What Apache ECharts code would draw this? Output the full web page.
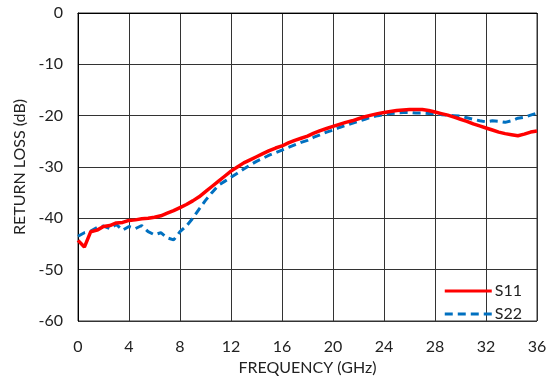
<!DOCTYPE html>
<html>
<head>
<meta charset="utf-8">
<script src="https://cdn.jsdelivr.net/npm/echarts@6/dist/echarts.min.js"></script>
<style>
  html, body { margin: 0; padding: 0; background: #fff; }
  #main { width: 551px; height: 381px; }
</style>
</head>
<body>
<div id="main"></div>
<script>
// frequency in GHz, 0.5 GHz steps
const freq = [
  0, 0.5, 1, 1.5, 2, 2.5, 3, 3.5, 4, 4.5, 5, 5.5, 6, 6.5, 7, 7.5, 8, 8.5, 9, 9.5,
  10, 10.5, 11, 11.5, 12, 12.5, 13, 13.5, 14, 14.5, 15, 15.5, 16, 16.5, 17, 17.5,
  18, 18.5, 19, 19.5, 20, 20.5, 21, 21.5, 22, 22.5, 23, 23.5, 24, 24.5, 25, 25.5,
  26, 26.5, 27, 27.5, 28, 28.5, 29, 29.5, 30, 30.5, 31, 31.5, 32, 32.5, 33, 33.5,
  34, 34.5, 35, 35.5, 36
];
const s11 = [
  -44.3, -45.6, -42.6, -42.3, -41.6, -41.4, -40.9, -40.8, -40.4, -40.3, -40.1, -40.0,
  -39.8, -39.5, -39.0, -38.5, -37.9, -37.3, -36.6, -35.8, -34.8, -33.8, -32.8, -31.8,
  -30.8, -30.0, -29.2, -28.6, -28.0, -27.4, -26.8, -26.3, -25.9, -25.3, -24.8, -24.4,
  -24.0, -23.4, -22.9, -22.5, -22.1, -21.7, -21.3, -21.0, -20.6, -20.2, -19.9, -19.6,
  -19.4, -19.2, -19.0, -18.9, -18.8, -18.8, -18.8, -19.0, -19.3, -19.6, -19.9, -20.3,
  -20.7, -21.1, -21.6, -22.0, -22.4, -22.8, -23.2, -23.5, -23.7, -23.9, -23.6, -23.2,
  -23.0
];
const s22 = [
  -43.5, -42.8, -42.5, -41.8, -41.5, -42.0, -41.2, -42.3, -41.6, -42.0, -41.4, -42.6,
  -43.2, -42.8, -43.8, -44.2, -42.6, -41.5, -40.0, -38.2, -36.5, -35.0, -33.6, -32.8,
  -32.0, -31.2, -30.4, -29.6, -28.9, -28.3, -27.7, -27.2, -26.7, -26.2, -25.7, -25.2,
  -24.8, -24.2, -23.7, -23.2, -22.8, -22.3, -21.9, -21.5, -21.1, -20.7, -20.3, -20.0,
  -19.8, -19.6, -19.5, -19.4, -19.4, -19.5, -19.5, -19.6, -19.6, -19.8, -19.9, -20.0,
  -20.1, -20.4, -20.7, -21.0, -21.2, -21.0, -21.1, -21.3, -21.0, -20.5, -20.3, -19.9,
  -19.5
];

const font = 'Lato, "Open Sans", sans-serif';
const chart = echarts.init(document.getElementById('main'), null, { renderer: 'canvas' });

chart.setOption({
  animation: false,
  backgroundColor: '#fff',
  textStyle: { fontFamily: font },
  grid: { left: 78, right: 14, top: 13, bottom: 58, show: true, borderColor: '#333', borderWidth: 1 },
  legend: {
    orient: 'vertical',
    right: 24,
    bottom: 54,
    itemWidth: 47,
    itemHeight: 14,
    itemGap: 7,
    itemStyle: { opacity: 0 },
    lineStyle: { width: 3 },
    textStyle: { fontSize: 16, color: '#222', fontFamily: font, padding: [0, 0, 0, -2] },
    data: ['S11', 'S22']
  },
  xAxis: {
    type: 'value',
    min: 0, max: 36, interval: 4,
    name: 'FREQUENCY (GHz)',
    nameLocation: 'middle',
    nameGap: 39,
    nameTextStyle: { fontSize: 16, color: '#222', fontFamily: font },
    axisLine: { lineStyle: { color: '#000' } },
    axisTick: { show: false },
    axisLabel: { fontSize: 16, color: '#222', margin: 18, fontFamily: font },
    splitLine: { lineStyle: { color: '#333', width: 1 } }
  },
  yAxis: {
    type: 'value',
    min: -60, max: 0, interval: 10,
    name: 'RETURN LOSS (dB)',
    nameLocation: 'middle',
    nameGap: 50,
    nameTextStyle: { fontSize: 16, color: '#222', fontFamily: font },
    axisLine: { show: true, lineStyle: { color: '#000' } },
    axisTick: { show: false },
    axisLabel: { fontSize: 16, color: '#222', margin: 15, fontFamily: font },
    splitLine: { lineStyle: { color: '#333', width: 1 } }
  },
  series: [
    {
      name: 'S11',
      type: 'line',
      data: freq.map((f, i) => [f, s11[i]]),
      symbol: 'none',
      lineStyle: { color: '#ff0000', width: 3.5 },
      itemStyle: { color: '#ff0000' },
      z: 3
    },
    {
      name: 'S22',
      type: 'line',
      data: freq.map((f, i) => [f, s22[i]]),
      symbol: 'none',
      lineStyle: { color: '#0070c0', width: 3, type: [8, 5] },
      itemStyle: { color: '#0070c0' },
      z: 2
    }
  ]
});
</script>
</body>
</html>
